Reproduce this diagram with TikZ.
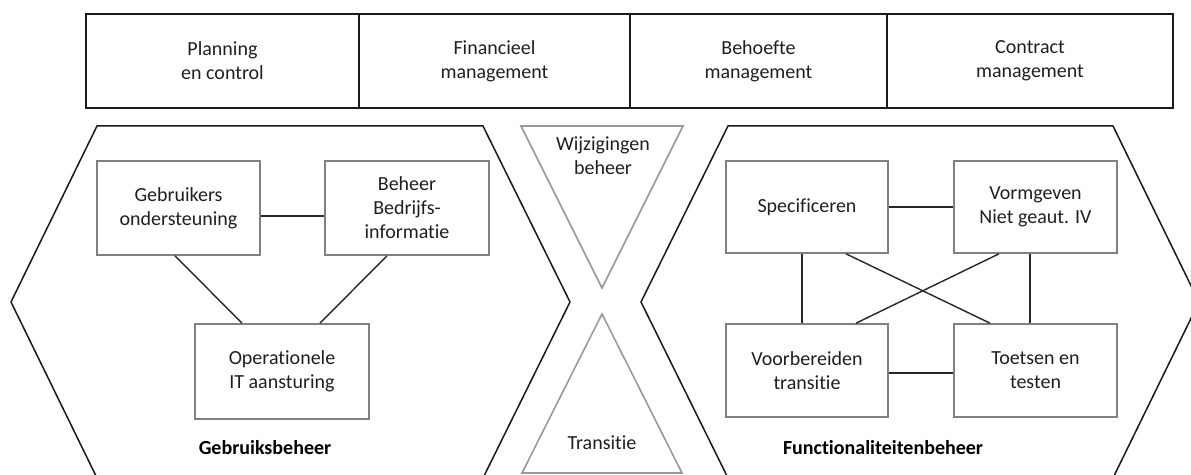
\documentclass[tikz,border=0pt]{standalone}
\usepackage{fontspec}
\setmainfont{Carlito}[Ligatures=NoCommon]
\begin{document}
\begin{tikzpicture}[x=0.5pt,y=-0.5pt,
  every node/.style={font=\fontsize{10}{12}\selectfont, text=black!88, align=center, inner sep=0pt},
  cell/.style={draw=black!90, line width=1pt, minimum height=47pt},
  task/.style={draw=black!50, line width=0.8pt, minimum width=81.5pt, minimum height=47pt},
  link/.style={draw=black!85, line width=0.7pt},
  hexa/.style={draw=black!90, line width=0.75pt, line join=miter},
  flow/.style={draw=black!40, line width=0.8pt, line join=miter},
  title/.style={font=\fontsize{10}{12}\selectfont\bfseries, text=black}
]
\useasboundingbox (0,0) rectangle (1191,475);

% management bar
\node[cell, minimum width=136.5pt] (plan) at (222.5,61) {Planning\\en control};
\node[cell, minimum width=135.5pt] (fin)  at (494.5,61) {Financieel\\management};
\node[cell, minimum width=128.5pt] (beh)  at (758.5,61) {Behoefte\\management};
\node[cell, minimum width=143pt]   (con)  at (1030,61)  {Contract\\management};

% the two domains, cut off at the lower edge
\begin{scope}
  \clip (0,0) rectangle (1191,475);
  \draw[hexa] (97,126) -- (483,126) -- (570,302) -- (483,478) -- (97,478) -- (11,302) -- cycle;
  \draw[hexa] (728,126) -- (1113,126) -- (1199,302) -- (1113,478) -- (728,478) -- (641,302) -- cycle;
\end{scope}

% change management and transition in between
\draw[flow] (521,126) -- (683,126) -- (602,288) -- cycle;
\draw[flow] (602,314) -- (682,473) -- (522,473) -- cycle;
\node (wijz) at (603,156) {Wijzigingen\\beheer};
\node (trans) at (602,443) {Transitie};

% Gebruiksbeheer
\node[task] (gebr) at (178.5,208) {Gebruikers\\ondersteuning};
\node[task, minimum width=82pt] (bbi) at (407,208) {Beheer\\Bedrijfs-\\informatie};
\node[task, minimum width=87pt, minimum height=47.5pt] (oper) at (282,371.5) {Operationele\\IT aansturing};
\node[title] (gb) at (265,448) {Gebruiksbeheer};

\draw[link] ([yshift=-4pt]gebr.east) -- ([yshift=-4pt]bbi.west);
\draw[link] ([xshift=-1.75pt]gebr.south) -- ([xshift=-20pt]oper.north);
\draw[link] ([xshift=-10pt]bbi.south) -- ([xshift=19pt]oper.north);

% Functionaliteitenbeheer
\node[task, minimum width=81pt, minimum height=46pt] (spec) at (807,207) {Specificeren};
\node[task, minimum height=46pt] (vorm) at (1035.5,207) {Vormgeven\\Niet geaut. IV};
\node[task, minimum width=81pt, minimum height=46.5pt] (voorb) at (807,370.5) {Voorbereiden\\transitie};
\node[task, minimum height=46.5pt] (toets) at (1035.5,370.5) {Toetsen en\\testen};
\node[title] (fb) at (883,448) {Functionaliteitenbeheer};

\draw[link] (spec.east) -- (vorm.west);
\draw[link] ([yshift=-1.25pt]voorb.east) -- ([yshift=-1.25pt]toets.west);
\draw[link] ([xshift=-2.5pt]spec.south) -- ([xshift=-2.5pt]voorb.north);
\draw[link] ([xshift=-2.75pt]vorm.south) -- ([xshift=-2.75pt]toets.north);
\draw[link] ([xshift=19.5pt]spec.south) -- ([xshift=-22.75pt]toets.north);
\draw[link] ([xshift=-18.25pt]vorm.south) -- ([xshift=24.5pt]voorb.north);
\end{tikzpicture}
\end{document}
